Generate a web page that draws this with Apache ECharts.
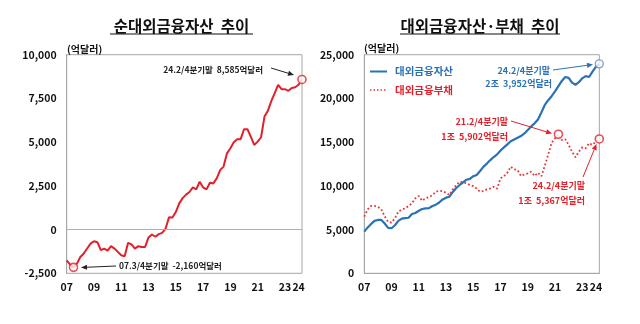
<!DOCTYPE html>
<html><head><meta charset="utf-8">
<script src="https://cdn.jsdelivr.net/npm/echarts@6/dist/echarts.min.js"></script>
<style>html,body{margin:0;padding:0;background:#fff}#c{width:640px;height:324px}</style>
</head><body><div id="c"></div>
<script>
const categories = [
'07.1/4','07.2/4','07.3/4','07.4/4','08.1/4','08.2/4','08.3/4','08.4/4','09.1/4','09.2/4','09.3/4','09.4/4',
'10.1/4','10.2/4','10.3/4','10.4/4','11.1/4','11.2/4','11.3/4','11.4/4','12.1/4','12.2/4','12.3/4','12.4/4',
'13.1/4','13.2/4','13.3/4','13.4/4','14.1/4','14.2/4','14.3/4','14.4/4','15.1/4','15.2/4','15.3/4','15.4/4',
'16.1/4','16.2/4','16.3/4','16.4/4','17.1/4','17.2/4','17.3/4','17.4/4','18.1/4','18.2/4','18.3/4','18.4/4',
'19.1/4','19.2/4','19.3/4','19.4/4','20.1/4','20.2/4','20.3/4','20.4/4','21.1/4','21.2/4','21.3/4','21.4/4',
'22.1/4','22.2/4','22.3/4','22.4/4','23.1/4','23.2/4','23.3/4','23.4/4','24.1/4','24.2/4'];
const tickLabels = ['07','09','11','13','15','17','19','21','23','24'];

// 순대외금융자산 (억달러)
const netAssets = [
-1755,-2000,-2160,-1945,-1565,-1370,-1085,-800,-665,-720,-1180,-1085,
-1200,-950,-1085,-1275,-1470,-1525,-760,-850,-1085,-950,-1000,-990,
-450,-280,-410,-260,-190,60,700,690,1000,1500,1800,2000,
2150,2410,2300,2735,2410,2300,2680,2640,2930,3400,3600,4360,
4650,5000,5170,5170,5740,5740,5300,4840,5030,5280,6460,6800,
7350,7800,8280,8030,8030,7935,8100,8140,8280,8585];

// 대외금융자산
const assets = [
4760,5250,5650,6000,6100,6100,5700,5200,5150,5500,6000,6250,
6300,6350,6780,6900,7150,7350,7430,7450,7700,7850,8100,8450,
8650,8760,9300,9750,10100,10400,10700,10800,11100,11250,11700,12200,
12550,12950,13300,13600,14050,14400,14750,15100,15300,15500,15700,16000,
16400,16800,17150,17600,18400,19250,19800,20250,20800,21400,22000,22450,
22350,21800,21550,21850,22300,22550,22450,23060,23600,23952];

// 대외금융부채
const liabilities = [
6480,7320,7700,7700,7600,7320,6500,5900,5790,6300,7050,7300,
7430,7700,8000,8580,8840,8300,8580,8700,8950,9330,9450,9400,
9200,8950,9600,10100,10480,10400,10290,10100,9980,9700,9330,9400,
9600,9700,9900,9680,10860,11100,11500,12190,11900,11810,11130,11300,
11430,11620,11130,11500,11100,12300,13600,14900,15450,15902,15240,15330,
14680,13910,13270,13910,14400,14300,14870,14680,15050,15367];

const leftTicks = [-2500, 0, 2500, 5000, 7500, 10000];
const rightTicks = [0, 5000, 10000, 15000, 20000, 25000];

const FONT = '"Noto Sans CJK KR", "Noto Sans", sans-serif';
const RED = '#e3202a', BLUE = '#2a72b5', DARK = '#222';

function fmt(v){ return v.toLocaleString('en-US'); }
function xLabelShown(i){ const c = categories[i]; return (c.slice(3)==='1/4') && tickLabels.indexOf(c.slice(0,2))>=0; }

function arrow(x1,y1,x2,y2,color){
  const a = Math.atan2(y2-y1, x2-x1), L = 6, W = 2.6;
  const bx = x2 - L*Math.cos(a), by = y2 - L*Math.sin(a);
  return [
    {type:'line', z:100, shape:{x1:x1,y1:y1,x2:bx,y2:by}, style:{stroke:color, lineWidth:1}},
    {type:'polygon', z:100, shape:{points:[[x2,y2],[bx+W*Math.sin(a),by-W*Math.cos(a)],[bx-W*Math.sin(a),by+W*Math.cos(a)]]}, style:{fill:color}}
  ];
}
function txt(x,y,s,color,size,align){
  return {type:'text', z:100, x:x, y:y, style:{text:s, fill:color, font:'bold '+size+'px '+FONT, textAlign:align||'left', textVerticalAlign:'middle'}};
}

const xAxisCommon = {
  type:'category', data:categories, boundaryGap:false,
  axisLine:{show:true, lineStyle:{color:'#a6a6a6'}}, axisTick:{show:false},
  axisLabel:{interval:function(i){return xLabelShown(i);}, formatter:function(v){return v.slice(0,2);},
    color:'#111', fontWeight:'bold', fontSize:10.5, fontFamily:FONT, margin:8}
};
const yAxisCommon = {
  type:'value', axisLine:{show:true, lineStyle:{color:'#a6a6a6'}}, axisTick:{show:false}, splitLine:{show:false},
  axisLabel:{formatter:fmt, color:'#111', fontWeight:'bold', fontSize:10.5, fontFamily:FONT, margin:10}
};

const chart = echarts.init(document.getElementById('c'), null, {renderer:'canvas'});
chart.setOption({
  animation:false,
  textStyle:{fontFamily:FONT},
  grid:[
    {left:66.7, top:54.7, width:235.3, height:218.6, show:true, borderColor:'#a6a6a6', borderWidth:1},
    {left:364.3, top:54.7, width:235, height:218.6, show:true, borderColor:'#a6a6a6', borderWidth:1}
  ],
  xAxis:[Object.assign({gridIndex:0}, xAxisCommon), Object.assign({gridIndex:1}, xAxisCommon)],
  yAxis:[
    Object.assign({gridIndex:0, min:leftTicks[0], max:leftTicks[leftTicks.length-1], interval:2500}, yAxisCommon),
    Object.assign({gridIndex:1, min:rightTicks[0], max:rightTicks[rightTicks.length-1], interval:5000}, yAxisCommon)
  ],
  series:[
    {type:'line', xAxisIndex:0, yAxisIndex:0, data:netAssets, symbol:'none', lineStyle:{color:RED, width:2}, z:3,
     markLine:{silent:true, symbol:'none', label:{show:false}, lineStyle:{color:'#b0b0b0', width:1, type:'solid'}, data:[{yAxis:0}]}},
    {type:'scatter', xAxisIndex:0, yAxisIndex:0, data:[[2, netAssets[2]],[69, netAssets[69]]],
     symbol:'circle', symbolSize:8, itemStyle:{color:'#fff', borderColor:RED, borderWidth:1.6}, z:5},
    {type:'line', name:'대외금융부채', xAxisIndex:1, yAxisIndex:1, data:liabilities, symbol:'none', lineStyle:{color:'#e5383b', width:1.8, type:[1.8,2.2]}, z:3},
    {type:'line', name:'대외금융자산', xAxisIndex:1, yAxisIndex:1, data:assets, symbol:'none', lineStyle:{color:BLUE, width:2.2}, z:4},
    {type:'scatter', xAxisIndex:1, yAxisIndex:1, data:[[57, liabilities[57]],[69, liabilities[69]]],
     symbol:'circle', symbolSize:8, itemStyle:{color:'#fff', borderColor:RED, borderWidth:1.6}, z:5},
    {type:'scatter', xAxisIndex:1, yAxisIndex:1, data:[[69, assets[69]]],
     symbol:'circle', symbolSize:8, itemStyle:{color:'#fff', borderColor:'#6b8fb0', borderWidth:1.4}, z:5}
  ],
  graphic:[].concat(
    [txt(181.5,26,'순대외금융자산  추이','#111',15.5,'center'),
     {type:'line', z:100, shape:{x1:110,y1:34,x2:253,y2:34}, style:{stroke:'#111', lineWidth:1.2}},
     txt(480,26,'대외금융자산·부채  추이','#111',15.5,'center'),
     {type:'line', z:100, shape:{x1:400,y1:34,x2:560,y2:34}, style:{stroke:'#111', lineWidth:1.2}},
     txt(67,49,'(억달러)','#111',10),
     txt(364,48,'(억달러)','#111',10),
     txt(263,69.5,'24.2/4분기말  8,585억달러',DARK,8.5,'right'),
     txt(119,266,'07.3/4분기말  -2,160억달러',DARK,8.5,'left'),
     {type:'line', z:100, shape:{x1:370,y1:71.5,x2:387,y2:71.5}, style:{stroke:BLUE, lineWidth:2}},
     txt(395,71.5,'대외금융자산',BLUE,10.5),
     {type:'line', z:100, shape:{x1:370,y1:90,x2:387,y2:90}, style:{stroke:'#e5383b', lineWidth:1.5, lineDash:[1.5,2]}},
     txt(395,90,'대외금융부채',RED,10.5),
     txt(550,70.5,'24.2/4분기말',BLUE,9,'right'),
     txt(552,83.5,'2조  3,952억달러',BLUE,9,'right'),
     txt(508,121.5,'21.2/4분기말',RED,9,'right'),
     txt(508,136.5,'1조  5,902억달러',RED,9,'right'),
     txt(585,186,'24.2/4분기말',RED,9,'right'),
     txt(585,200.5,'1조  5,367억달러',RED,9,'right')],
    arrow(271,68,294,75,DARK),
    arrow(116,266,81,267.5,DARK),
    arrow(553,70,593,64.5,BLUE),
    arrow(511,121,552,133.5,RED),
    arrow(583,177,596.5,144,RED)
  )
});
</script></body></html>
